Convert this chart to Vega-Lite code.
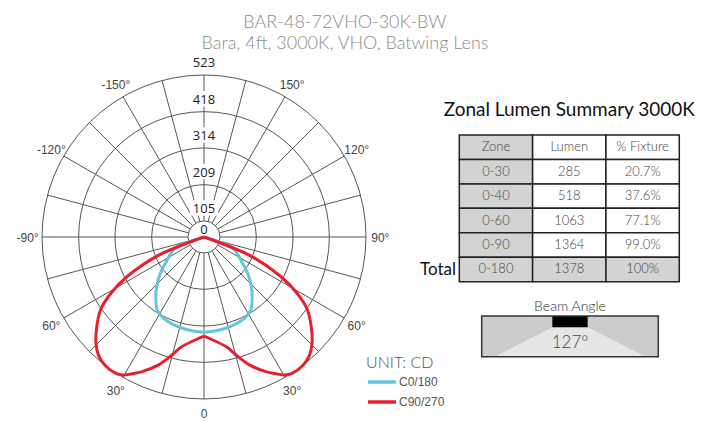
{
  "$schema": "https://vega.github.io/schema/vega-lite/v6.json",
  "width": 710,
  "height": 422,
  "autosize": {"type": "none"},
  "padding": 0,
  "background": "#ffffff",
  "title": {
    "text": "BAR-48-72VHO-30K-BW",
    "subtitle": "Bara, 4ft, 3000K, VHO, Batwing Lens",
    "anchor": "middle",
    "dx": -10,
    "offset": -53,
    "font": "Lato", "fontSize": 18, "fontWeight": 300, "color": "#8c8c8c",
    "subtitleFont": "Lato", "subtitleFontSize": 18, "subtitleFontWeight": 300, "subtitleColor": "#8c8c8c",
    "subtitlePadding": 3
  },
  "config": {"view": {"stroke": null}},
  "datasets": {
    "curves": [
      {"series": "C0/180", "half": "R", "a": 0, "cd": 332},
      {"series": "C0/180", "half": "R", "a": 5.6, "cd": 330},
      {"series": "C0/180", "half": "R", "a": 12.9, "cd": 328},
      {"series": "C0/180", "half": "R", "a": 20.7, "cd": 324},
      {"series": "C0/180", "half": "R", "a": 26.8, "cd": 319},
      {"series": "C0/180", "half": "R", "a": 32.5, "cd": 308},
      {"series": "C0/180", "half": "R", "a": 38, "cd": 283},
      {"series": "C0/180", "half": "R", "a": 42.7, "cd": 260},
      {"series": "C0/180", "half": "R", "a": 49.2, "cd": 227},
      {"series": "C0/180", "half": "R", "a": 56.5, "cd": 189},
      {"series": "C0/180", "half": "R", "a": 68, "cd": 150},
      {"series": "C0/180", "half": "R", "a": 90, "cd": 0},
      {"series": "C0/180", "half": "L", "a": 0, "cd": 332},
      {"series": "C0/180", "half": "L", "a": -5.6, "cd": 330},
      {"series": "C0/180", "half": "L", "a": -12.9, "cd": 328},
      {"series": "C0/180", "half": "L", "a": -20.7, "cd": 324},
      {"series": "C0/180", "half": "L", "a": -26.8, "cd": 319},
      {"series": "C0/180", "half": "L", "a": -32.5, "cd": 308},
      {"series": "C0/180", "half": "L", "a": -38, "cd": 283},
      {"series": "C0/180", "half": "L", "a": -42.7, "cd": 260},
      {"series": "C0/180", "half": "L", "a": -49.2, "cd": 227},
      {"series": "C0/180", "half": "L", "a": -56.5, "cd": 189},
      {"series": "C0/180", "half": "L", "a": -68, "cd": 150},
      {"series": "C0/180", "half": "L", "a": -90, "cd": 0},
      {"series": "C90/270", "half": "R", "a": 0, "cd": 343},
      {"series": "C90/270", "half": "R", "a": 5.2, "cd": 356},
      {"series": "C90/270", "half": "R", "a": 11.7, "cd": 381},
      {"series": "C90/270", "half": "R", "a": 15.4, "cd": 411},
      {"series": "C90/270", "half": "R", "a": 19.7, "cd": 449},
      {"series": "C90/270", "half": "R", "a": 24.9, "cd": 485},
      {"series": "C90/270", "half": "R", "a": 28, "cd": 503},
      {"series": "C90/270", "half": "R", "a": 30.5, "cd": 518},
      {"series": "C90/270", "half": "R", "a": 33, "cd": 524},
      {"series": "C90/270", "half": "R", "a": 37.7, "cd": 523},
      {"series": "C90/270", "half": "R", "a": 41.7, "cd": 513},
      {"series": "C90/270", "half": "R", "a": 45.5, "cd": 493},
      {"series": "C90/270", "half": "R", "a": 50, "cd": 460},
      {"series": "C90/270", "half": "R", "a": 55, "cd": 420},
      {"series": "C90/270", "half": "R", "a": 59, "cd": 368},
      {"series": "C90/270", "half": "R", "a": 63, "cd": 302},
      {"series": "C90/270", "half": "R", "a": 68, "cd": 201},
      {"series": "C90/270", "half": "R", "a": 90, "cd": 0},
      {"series": "C90/270", "half": "L", "a": 0, "cd": 343},
      {"series": "C90/270", "half": "L", "a": -5.2, "cd": 356},
      {"series": "C90/270", "half": "L", "a": -11.7, "cd": 381},
      {"series": "C90/270", "half": "L", "a": -15.4, "cd": 411},
      {"series": "C90/270", "half": "L", "a": -19.7, "cd": 449},
      {"series": "C90/270", "half": "L", "a": -24.9, "cd": 485},
      {"series": "C90/270", "half": "L", "a": -28, "cd": 503},
      {"series": "C90/270", "half": "L", "a": -30.5, "cd": 518},
      {"series": "C90/270", "half": "L", "a": -33, "cd": 524},
      {"series": "C90/270", "half": "L", "a": -37.7, "cd": 523},
      {"series": "C90/270", "half": "L", "a": -41.7, "cd": 513},
      {"series": "C90/270", "half": "L", "a": -45.5, "cd": 493},
      {"series": "C90/270", "half": "L", "a": -50, "cd": 460},
      {"series": "C90/270", "half": "L", "a": -55, "cd": 420},
      {"series": "C90/270", "half": "L", "a": -59, "cd": 368},
      {"series": "C90/270", "half": "L", "a": -63, "cd": 302},
      {"series": "C90/270", "half": "L", "a": -68, "cd": 201},
      {"series": "C90/270", "half": "L", "a": -90, "cd": 0}
    ],
    "spokes": [
      {"a": 0, "inner": 105, "outer": 523}, {"a": 15, "inner": 105, "outer": 523},
      {"a": 30, "inner": 105, "outer": 523}, {"a": 45, "inner": 105, "outer": 523},
      {"a": 60, "inner": 105, "outer": 523}, {"a": 75, "inner": 105, "outer": 523},
      {"a": 90, "inner": 105, "outer": 523}, {"a": 105, "inner": 105, "outer": 523},
      {"a": 120, "inner": 105, "outer": 523}, {"a": 135, "inner": 105, "outer": 523},
      {"a": 150, "inner": 105, "outer": 523}, {"a": 165, "inner": 105, "outer": 523},
      {"a": 180, "inner": 105, "outer": 523}, {"a": 195, "inner": 105, "outer": 523},
      {"a": 210, "inner": 105, "outer": 523}, {"a": 225, "inner": 105, "outer": 523},
      {"a": 240, "inner": 105, "outer": 523}, {"a": 255, "inner": 105, "outer": 523},
      {"a": 270, "inner": 105, "outer": 523}, {"a": 285, "inner": 105, "outer": 523},
      {"a": 300, "inner": 105, "outer": 523}, {"a": 315, "inner": 105, "outer": 523},
      {"a": 330, "inner": 105, "outer": 523}, {"a": 345, "inner": 105, "outer": 523}
    ],
    "rings": [
      {"label": "0", "cd": 0},
      {"label": "105", "cd": 105},
      {"label": "209", "cd": 209},
      {"label": "314", "cd": 314},
      {"label": "418", "cd": 418},
      {"label": "523", "cd": 523}
    ],
    "angles": [
      {"a": 0, "label": "0"},
      {"a": 30, "label": "30°"},
      {"a": 60, "label": "60°"},
      {"a": 90, "label": "90°"},
      {"a": 120, "label": "120°"},
      {"a": 150, "label": "150°"},
      {"a": -30, "label": "30°"},
      {"a": -60, "label": "60°"},
      {"a": -90, "label": "-90°"},
      {"a": -120, "label": "-120°"},
      {"a": -150, "label": "-150°"}
    ],
    "zonal": [
      {"r": "Zone", "zone": "Zone", "lumen": "Lumen", "pct": "% Fixture"},
      {"r": "0-30", "zone": "0-30", "lumen": "285", "pct": "20.7%"},
      {"r": "0-40", "zone": "0-40", "lumen": "518", "pct": "37.6%"},
      {"r": "0-60", "zone": "0-60", "lumen": "1063", "pct": "77.1%"},
      {"r": "0-90", "zone": "0-90", "lumen": "1364", "pct": "99.0%"},
      {"r": "0-180", "zone": "0-180", "lumen": "1378", "pct": "100%"}
    ],
    "beam": [{"title": "Beam Angle", "label": "127°", "beam": 127}],
    "cone": [
      {"x": -4.3, "top": 0},
      {"x": -1, "top": 1.66},
      {"x": 1, "top": 1.66},
      {"x": 4.3, "top": 0}
    ]
  },
  "layer": [
    {
      "data": {"name": "spokes"},
      "transform": [
        {"calculate": "(datum.inner-59)*sin(datum.a*PI/180)", "as": "x1"},
        {"calculate": "-(datum.inner-59)*cos(datum.a*PI/180)", "as": "y1"},
        {"calculate": "(datum.outer-59)*sin(datum.a*PI/180)", "as": "x2"},
        {"calculate": "-(datum.outer-59)*cos(datum.a*PI/180)", "as": "y2"}
      ],
      "mark": {"type": "rule", "color": "#555555", "strokeWidth": 1},
      "encoding": {
        "x": {"field": "x1", "type": "quantitative", "scale": {"domain": [-584.3, 1449.3], "nice": false, "zero": false}, "axis": null},
        "y": {"field": "y1", "type": "quantitative", "scale": {"domain": [-529.9, 678.8], "nice": false, "zero": false}, "axis": null},
        "x2": {"field": "x2"},
        "y2": {"field": "y2"}
      }
    },
    {
      "data": {"name": "rings"},
      "transform": [{"filter": "datum.cd > 0"}, {"calculate": "datum.cd-59", "as": "rr"}],
      "mark": {"type": "point", "shape": "circle", "filled": false, "color": "#555555", "strokeWidth": 1, "opacity": 1},
      "encoding": {
        "x": {"datum": 0, "type": "quantitative", "scale": {"domain": [-584.3, 1449.3], "nice": false, "zero": false}, "axis": null},
        "y": {"datum": 0, "type": "quantitative", "scale": {"domain": [-529.9, 678.8], "nice": false, "zero": false}, "axis": null},
        "size": {"field": "rr", "type": "quantitative", "scale": {"type": "pow", "exponent": 2, "domain": [0, 464], "range": [0, 104976]}, "legend": null}
      }
    },
    {
      "data": {"name": "rings"},
      "transform": [{"filter": "datum.cd > 0"}, {"calculate": "datum.cd-59", "as": "rr"}],
      "mark": {"type": "point", "shape": "M-1,-0.55L1,-0.55L1,0.55L-1,0.55Z", "filled": true, "color": "#ffffff", "size": 784, "opacity": 1, "yOffset": -13},
      "encoding": {
        "x": {"datum": 0, "type": "quantitative", "scale": {"domain": [-584.3, 1449.3], "nice": false, "zero": false}, "axis": null},
        "y": {"field": "rr", "type": "quantitative", "scale": {"domain": [-529.9, 678.8], "nice": false, "zero": false}, "axis": null}
      }
    },
    {
      "data": {"name": "rings"},
      "transform": [{"filter": "datum.cd > 0"}, {"calculate": "datum.cd-59", "as": "rr"}],
      "mark": {"type": "text", "font": "Open Sans", "fontSize": 13, "color": "#222222", "baseline": "middle", "align": "center", "dy": -12},
      "encoding": {
        "x": {"datum": 0, "type": "quantitative", "scale": {"domain": [-584.3, 1449.3], "nice": false, "zero": false}, "axis": null},
        "y": {"field": "rr", "type": "quantitative", "scale": {"domain": [-529.9, 678.8], "nice": false, "zero": false}, "axis": null},
        "text": {"field": "label"}
      }
    },
    {
      "data": {"name": "rings"},
      "transform": [{"filter": "datum.cd == 0"}],
      "mark": {"type": "text", "font": "Open Sans", "fontSize": 13, "color": "#222222", "baseline": "middle", "align": "center", "dy": -7},
      "encoding": {
        "x": {"datum": 0, "type": "quantitative", "scale": {"domain": [-584.3, 1449.3], "nice": false, "zero": false}, "axis": null},
        "y": {"datum": 0, "type": "quantitative", "scale": {"domain": [-529.9, 678.8], "nice": false, "zero": false}, "axis": null},
        "text": {"field": "label"}
      }
    },
    {
      "data": {"name": "angles"},
      "transform": [
        {"calculate": "505*sin(datum.a*PI/180)", "as": "lx"},
        {"calculate": "-505*cos(datum.a*PI/180)", "as": "ly"}
      ],
      "mark": {"type": "text", "font": "Liberation Sans", "fontSize": 12, "color": "#444444", "baseline": "middle", "align": "center", "dy": 1},
      "encoding": {
        "x": {"field": "lx", "type": "quantitative", "scale": {"domain": [-584.3, 1449.3], "nice": false, "zero": false}, "axis": null},
        "y": {"field": "ly", "type": "quantitative", "scale": {"domain": [-529.9, 678.8], "nice": false, "zero": false}, "axis": null},
        "text": {"field": "label"}
      }
    },
    {
      "data": {"name": "curves"},
      "transform": [
        {"calculate": "max(datum.cd-59,0)*sin(datum.a*PI/180)", "as": "px"},
        {"calculate": "-max(datum.cd-59,0)*cos(datum.a*PI/180)", "as": "py"}
      ],
      "mark": {"type": "line", "strokeWidth": 3, "interpolate": "catmull-rom"},
      "encoding": {
        "x": {"field": "px", "type": "quantitative", "scale": {"domain": [-584.3, 1449.3], "nice": false, "zero": false}, "axis": null},
        "y": {"field": "py", "type": "quantitative", "scale": {"domain": [-529.9, 678.8], "nice": false, "zero": false}, "axis": null},
        "order": {"field": "a", "type": "quantitative"},
        "detail": {"field": "half"},
        "color": {
          "field": "series", "type": "nominal",
          "scale": {"domain": ["C0/180", "C90/270"], "range": ["#62c6dc", "#e8202a"]},
          "legend": {
            "orient": "none", "legendX": 366, "legendY": 355,
            "title": "UNIT: CD", "titleFont": "Lato", "titleFontSize": 16, "titleFontWeight": 300, "titleColor": "#555555", "titlePadding": 3,
            "symbolType": "M-1,0L3.67,0", "symbolSize": 144, "symbolStrokeWidth": 3.5,
            "labelFont": "Liberation Sans", "labelFontSize": 12, "labelColor": "#555555", "labelOffset": 17,
            "rowPadding": 5
          }
        }
      }
    },
    {
      "data": {"name": "zonal"},
      "transform": [{"fold": ["zone", "lumen", "pct"], "as": ["key", "val"]}],
      "mark": {"type": "rect", "stroke": "#222222", "strokeWidth": 1.5},
      "encoding": {
        "x": {"field": "key", "type": "nominal", "scale": {"type": "band", "domain": ["x1", "x2", "x3", "x4", "x5", "zone", "lumen", "pct"], "paddingInner": 0, "paddingOuter": 0.841, "align": 0.751}, "axis": null},
        "y": {"field": "r", "type": "nominal", "scale": {"type": "band", "domain": ["y1", "y2", "y3", "y4", "y5", "Zone", "0-30", "0-40", "0-60", "0-90", "0-180", "y6", "y7", "y8", "y9", "y10"], "paddingInner": 0, "paddingOuter": 0.63, "align": 0.414}, "axis": null},
        "fill": {"condition": {"test": "datum.key === 'zone' || datum.r === '0-180'", "value": "#d3d3d3"}, "value": "#ffffff"}
      }
    },
    {
      "data": {"name": "zonal"},
      "transform": [{"fold": ["zone", "lumen", "pct"], "as": ["key", "val"]}],
      "mark": {"type": "text", "font": "Lato", "fontSize": 13, "fontWeight": 300, "color": "#444444", "baseline": "middle", "align": "center"},
      "encoding": {
        "x": {"field": "key", "type": "nominal", "scale": {"type": "band", "domain": ["x1", "x2", "x3", "x4", "x5", "zone", "lumen", "pct"], "paddingInner": 0, "paddingOuter": 0.841, "align": 0.751}, "axis": null},
        "y": {"field": "r", "type": "nominal", "scale": {"type": "band", "domain": ["y1", "y2", "y3", "y4", "y5", "Zone", "0-30", "0-40", "0-60", "0-90", "0-180", "y6", "y7", "y8", "y9", "y10"], "paddingInner": 0, "paddingOuter": 0.63, "align": 0.414}, "axis": null},
        "text": {"field": "val"}
      }
    },
    {
      "data": {"values": [{"label": "Total"}]},
      "mark": {"type": "text", "font": "Lato", "fontSize": 17, "fontWeight": 400, "color": "#111111", "baseline": "middle", "align": "right", "dx": -40, "dy": 1},
      "encoding": {
        "x": {"datum": "zone", "type": "nominal", "scale": {"type": "band", "domain": ["x1", "x2", "x3", "x4", "x5", "zone", "lumen", "pct"], "paddingInner": 0, "paddingOuter": 0.841, "align": 0.751}, "axis": null},
        "y": {"datum": "0-180", "type": "nominal", "scale": {"type": "band", "domain": ["y1", "y2", "y3", "y4", "y5", "Zone", "0-30", "0-40", "0-60", "0-90", "0-180", "y6", "y7", "y8", "y9", "y10"], "paddingInner": 0, "paddingOuter": 0.63, "align": 0.414}, "axis": null},
        "text": {"field": "label"}
      }
    },
    {
      "data": {"values": [{"label": "Zonal Lumen Summary 3000K"}]},
      "mark": {"type": "text", "font": "Lato", "fontSize": 19, "fontWeight": 400, "color": "#111111", "baseline": "middle", "align": "center", "dy": -37},
      "encoding": {
        "x": {"datum": "lumen", "type": "nominal", "scale": {"type": "band", "domain": ["x1", "x2", "x3", "x4", "x5", "zone", "lumen", "pct"], "paddingInner": 0, "paddingOuter": 0.841, "align": 0.751}, "axis": null},
        "y": {"datum": "Zone", "type": "nominal", "scale": {"type": "band", "domain": ["y1", "y2", "y3", "y4", "y5", "Zone", "0-30", "0-40", "0-60", "0-90", "0-180", "y6", "y7", "y8", "y9", "y10"], "paddingInner": 0, "paddingOuter": 0.63, "align": 0.414}, "axis": null},
        "text": {"field": "label"}
      }
    },
    {
      "data": {"name": "beam"},
      "mark": {"type": "rect", "fill": "#cccccc"},
      "encoding": {
        "x": {"datum": -5, "type": "quantitative", "scale": {"domain": [-32.276, 7.928], "nice": false, "zero": false}, "axis": null},
        "x2": {"datum": 5},
        "y": {"datum": 0, "type": "quantitative", "scale": {"domain": [-3.69, 20.157], "nice": false, "zero": false}, "axis": null},
        "y2": {"datum": 2.3}
      }
    },
    {
      "data": {"name": "cone"},
      "mark": {"type": "area", "fill": "#e6e6e6", "opacity": 1},
      "encoding": {
        "x": {"field": "x", "type": "quantitative", "scale": {"domain": [-32.276, 7.928], "nice": false, "zero": false}, "axis": null},
        "y": {"field": "top", "type": "quantitative", "scale": {"domain": [-3.69, 20.157], "nice": false, "zero": false}, "axis": null},
        "y2": {"datum": 0}
      }
    },
    {
      "data": {"name": "beam"},
      "mark": {"type": "rect", "fill": "#000000"},
      "encoding": {
        "x": {"datum": -1, "type": "quantitative", "scale": {"domain": [-32.276, 7.928], "nice": false, "zero": false}, "axis": null},
        "x2": {"datum": 1},
        "y": {"datum": 1.66, "type": "quantitative", "scale": {"domain": [-3.69, 20.157], "nice": false, "zero": false}, "axis": null},
        "y2": {"datum": 2.3}
      }
    },
    {
      "data": {"name": "beam"},
      "mark": {"type": "rect", "fill": null, "fillOpacity": 0, "stroke": "#333333", "strokeWidth": 1.5},
      "encoding": {
        "x": {"datum": -5, "type": "quantitative", "scale": {"domain": [-32.276, 7.928], "nice": false, "zero": false}, "axis": null},
        "x2": {"datum": 5},
        "y": {"datum": 0, "type": "quantitative", "scale": {"domain": [-3.69, 20.157], "nice": false, "zero": false}, "axis": null},
        "y2": {"datum": 2.3}
      }
    },
    {
      "data": {"name": "beam"},
      "mark": {"type": "text", "font": "Lato", "fontSize": 14, "fontWeight": 300, "color": "#333333", "baseline": "bottom", "align": "center", "dy": -2},
      "encoding": {
        "x": {"datum": 0, "type": "quantitative", "scale": {"domain": [-32.276, 7.928], "nice": false, "zero": false}, "axis": null},
        "y": {"datum": 2.3, "type": "quantitative", "scale": {"domain": [-3.69, 20.157], "nice": false, "zero": false}, "axis": null},
        "text": {"field": "title"}
      }
    },
    {
      "data": {"name": "beam"},
      "mark": {"type": "text", "font": "Lato", "fontSize": 17, "fontWeight": 300, "color": "#444444", "baseline": "middle", "align": "center"},
      "encoding": {
        "x": {"datum": 0, "type": "quantitative", "scale": {"domain": [-32.276, 7.928], "nice": false, "zero": false}, "axis": null},
        "y": {"datum": 0.77, "type": "quantitative", "scale": {"domain": [-3.69, 20.157], "nice": false, "zero": false}, "axis": null},
        "text": {"field": "label"}
      }
    }
  ],
  "resolve": {"scale": {"x": "independent", "y": "independent", "size": "independent", "color": "independent"}}
}
